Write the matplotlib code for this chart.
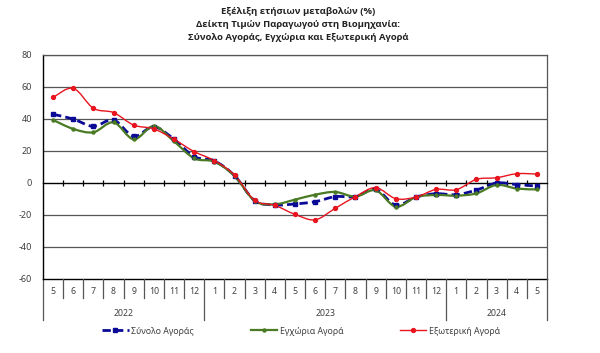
import numpy as np
import matplotlib.pyplot as plt
from matplotlib.path import Path
from matplotlib.patches import PathPatch
from matplotlib.lines import Line2D

plt.rcParams['font.family'] = ['Noto Sans', 'DejaVu Sans']
plt.rcParams['axes.unicode_minus'] = False

# μήνες 5/2022 - 5/2024
months = ['5', '6', '7', '8', '9', '10', '11', '12',
          '1', '2', '3', '4', '5', '6', '7', '8', '9', '10', '11', '12',
          '1', '2', '3', '4', '5']
years = ['2022', '2023', '2024']
year_start = [0, 8, 20]   # index του πρώτου μήνα κάθε έτους

synolo = [42.9, 40.0, 35.4, 39.4, 29.2, 35.2, 27.3, 16.5, 13.8, 4.6, -11.0, -13.7, -13.1,
          -11.7, -8.5, -8.5, -4.0, -13.8, -8.8, -6.7, -7.3, -4.4, 0.0, -1.0, -1.9]
egxoria = [39.4, 33.8, 31.7, 37.9, 27.3, 35.6, 26.0, 15.4, 13.3, 4.4, -11.2, -13.3, -10.4,
           -7.3, -5.6, -8.5, -4.6, -14.8, -8.8, -7.5, -7.9, -6.5, -1.2, -3.5, -4.0]
exoteriki = [53.5, 59.2, 46.7, 44.0, 36.2, 33.8, 27.3, 19.6, 14.0, 5.0, -10.8, -14.0, -19.6,
             -23.0, -15.8, -8.5, -2.9, -9.8, -8.8, -4.0, -4.2, 2.3, 3.3, 5.8, 5.6]

names = ['Σύνολο Αγοράς', 'Εγχώρια Αγορά', 'Εξωτερική Αγορά']
colors = ['#0A0A96', '#4A7A23', '#E8141E']


def smooth_path(xs, ys):
    # καμπύλη bezier τύπου excel (smoothed line)
    p = np.column_stack([xs, ys]).astype(float)
    n = len(p)
    verts = [p[0]]
    codes = [Path.MOVETO]
    for i in range(n - 1):
        p0 = p[i - 1] if i > 0 else p[i]
        p3 = p[i + 2] if i + 2 < n else p[i + 1]
        c1 = p[i] + (p[i + 1] - p0) / 6
        c2 = p[i + 1] - (p3 - p[i]) / 6
        verts += [c1, c2, p[i + 1]]
        codes += [Path.CURVE4] * 3
    return Path(verts, codes)


fig = plt.figure(figsize=(6, 3.53), dpi=100)
ax = fig.add_axes([43 / 600, 1 - 279 / 353, 504 / 600, 224 / 353])

x = np.arange(len(months))
ax.set_xlim(-0.5, len(months) - 0.5)
ax.set_ylim(-60, 80)
ax.set_yticks(range(-60, 81, 20))
ax.tick_params(axis='y', length=0, labelsize=6.5, labelcolor='#404040', pad=8)
for v in [20, 40, 60, 80, -20, -40]:
    ax.axhline(v, color='#555555', lw=0.9, zorder=1)
ax.axhline(-60, color='black', lw=1.0, zorder=1, clip_on=False)

# άξονας x πάνω στο μηδέν
ax.spines['bottom'].set_position(('data', 0))
ax.spines['bottom'].set_linewidth(1.0)
ax.set_xticks(np.arange(0.5, len(months) - 1, 1.0))
ax.set_xticklabels([])
ax.tick_params(axis='x', direction='inout', length=5, width=0.9)
ax.spines['left'].set_linewidth(1.0)
for s in ['top', 'right']:
    ax.spines[s].set_color('#555555')
    ax.spines[s].set_linewidth(0.9)

# γραμμές
data = [synolo, egxoria, exoteriki]
styles = [dict(ls=(0, (3, 1.5)), lw=2.0), dict(ls='-', lw=1.6), dict(ls='-', lw=1.0)]
markers = [dict(marker='s', ms=3.5), dict(marker='o', ms=2.2), dict(marker='o', ms=2.8)]
for d, c, st, mk in zip(data, colors, styles, markers):
    patch = PathPatch(smooth_path(x, d), fill=False, edgecolor=c, linestyle=st['ls'],
                      lw=st['lw'], zorder=3)
    ax.add_patch(patch)
    ax.plot(x, d, ls='none', color=c, zorder=4, **mk)

# ετικέτες μηνών / ετών κάτω από το -60
tr = ax.get_xaxis_transform()
for i, m in enumerate(months):
    ax.text(i, -0.054, m, transform=tr, ha='center', va='center', fontsize=6.3, color='#404040')
for b in np.arange(-0.5, len(months), 1.0):
    bottom = -0.185 if (b + 0.5) in year_start or b == len(months) - 0.5 else -0.085
    ax.plot([b, b], [0, bottom], transform=tr, color='#555555', lw=0.9, clip_on=False)
ends = year_start[1:] + [len(months)]
for yname, s, e in zip(years, year_start, ends):
    ax.text((s + e - 1) / 2, -0.152, yname, transform=tr, ha='center', va='center',
            fontsize=6.3, color='#404040')

# τίτλος
titles = ['Εξέλιξη ετήσιων μεταβολών (%)',
          'Δείκτη Τιμών Παραγωγού στη Βιομηχανία:',
          'Σύνολο Αγοράς, Εγχώρια και Εξωτερική Αγορά']
for k, t in enumerate(titles):
    fig.text(0.497, 1 - (12 + 12.5 * k) / 353, t, ha='center', va='center', fontsize=6.8,
             fontweight='bold', color='#222222', family=['Open Sans', 'DejaVu Sans'])

# υπόμνημα
handles = [Line2D([], [], color=c, ls=st['ls'], lw=st['lw'], **mk)
           for c, st, mk in zip(colors, styles, markers)]
fig.legend(handles, names, loc='center', bbox_to_anchor=(0.502, 1 - 331 / 353), ncol=3,
           frameon=False, fontsize=6.3, handlelength=3.0, handletextpad=0.3,
           columnspacing=6.5, labelcolor='#404040')

fig.savefig('out.png', dpi=100)
